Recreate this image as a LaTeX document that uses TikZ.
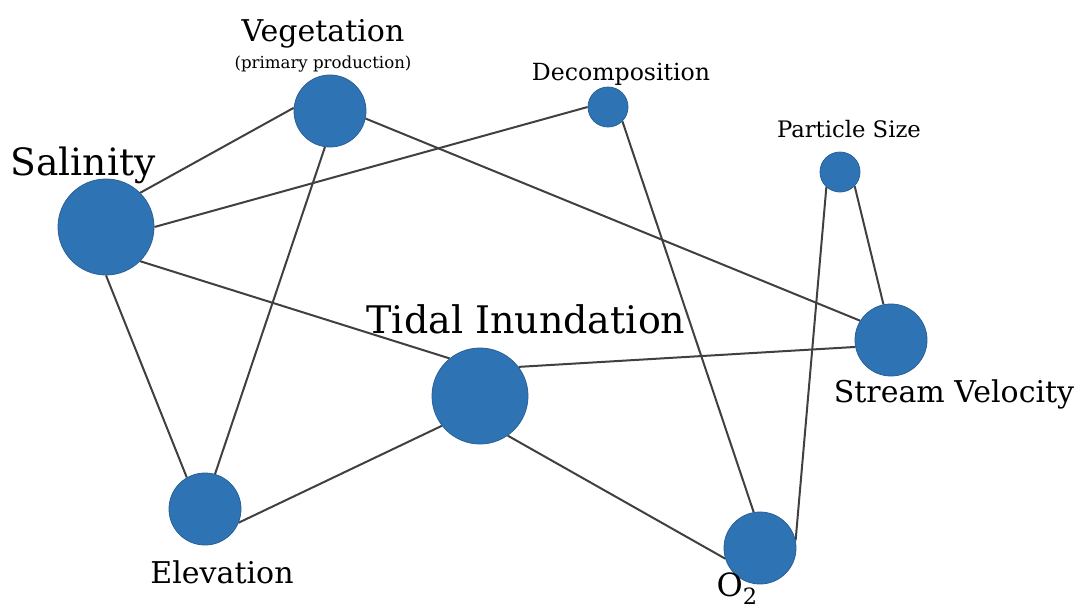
\documentclass[tikz,border=0pt]{standalone}
\usepackage{fontspec}
\setmainfont{DejaVu Serif}
\usetikzlibrary{backgrounds}
\begin{document}
\begin{tikzpicture}[x=1pt,y=-1pt,
  factor/.style={circle,fill=nodeblue,draw=nodeedge,line width=0.8pt,inner sep=0pt,minimum size=#1},
  link/.style={draw=linkgray,line width=2pt},
  lbl/.style={anchor=base,inner sep=0pt,text=black}]
\definecolor{nodeblue}{HTML}{2E74B5}
\definecolor{nodeedge}{HTML}{2A5F96}
\definecolor{linkgray}{HTML}{404040}
\useasboundingbox (0,0) rectangle (1078,611);

% factors
\node[factor=96pt] (sal) at (106,227) {};
\node[factor=72pt] (veg) at (330,111) {};
\node[factor=40pt] (dec) at (608,107) {};
\node[factor=40pt] (par) at (840,172) {};
\node[factor=72pt] (str) at (891,340) {};
\node[factor=96pt] (tid) at (480,396) {};
\node[factor=72pt] (oxy) at (760,548) {};
\node[factor=72pt] (ele) at (205,509) {};

% relationships, attached to fixed sites on each circle
\begin{scope}[on background layer]
\draw[link] (sal.45)   -- (veg.175);
\draw[link] (sal.0)    -- (dec.180);
\draw[link] (sal.-45)  -- (tid.129);
\draw[link] (sal.-90)  -- (ele.120);
\draw[link] (veg.-98)  -- (ele.74);
\draw[link] (veg.-12)  -- (str.148);
\draw[link] (dec.-45)  -- (oxy.100);
\draw[link] (par.-132) -- (oxy.12);
\draw[link] (par.-44)  -- (str.102);
\draw[link] (tid.37)   -- (str.191);
\draw[link] (tid.218)  -- (ele.-22);
\draw[link] (tid.-55)  -- (oxy.197);
\end{scope}

% labels
\node[lbl,font=\fontsize{37.6}{40}\selectfont] (tsal) at (83,175) {Salinity};
\node[lbl,font=\fontsize{30}{32}\selectfont] (tveg) at (323,41) {Vegetation};
\node[lbl,font=\fontsize{16.6}{18}\selectfont] (tveg2) at (323,68) {(primary production)};
\node[lbl,font=\fontsize{23.6}{25}\selectfont] (tdec) at (621,80) {Decomposition};
\node[lbl,font=\fontsize{22.7}{24}\selectfont] (tpar) at (849,137) {Particle Size};
\node[lbl,font=\fontsize{38}{40}\selectfont] (ttid) at (526,333) {Tidal Inundation};
\node[lbl,font=\fontsize{30}{32}\selectfont] (tstr) at (954,402) {Stream Velocity};
\node[lbl,font=\fontsize{30}{32}\selectfont] (tele) at (222,583) {Elevation};
\node[lbl,font=\fontsize{32}{34}\selectfont] (toxy) at (737,596) {O\textsubscript{2}};
\end{tikzpicture}
\end{document}
